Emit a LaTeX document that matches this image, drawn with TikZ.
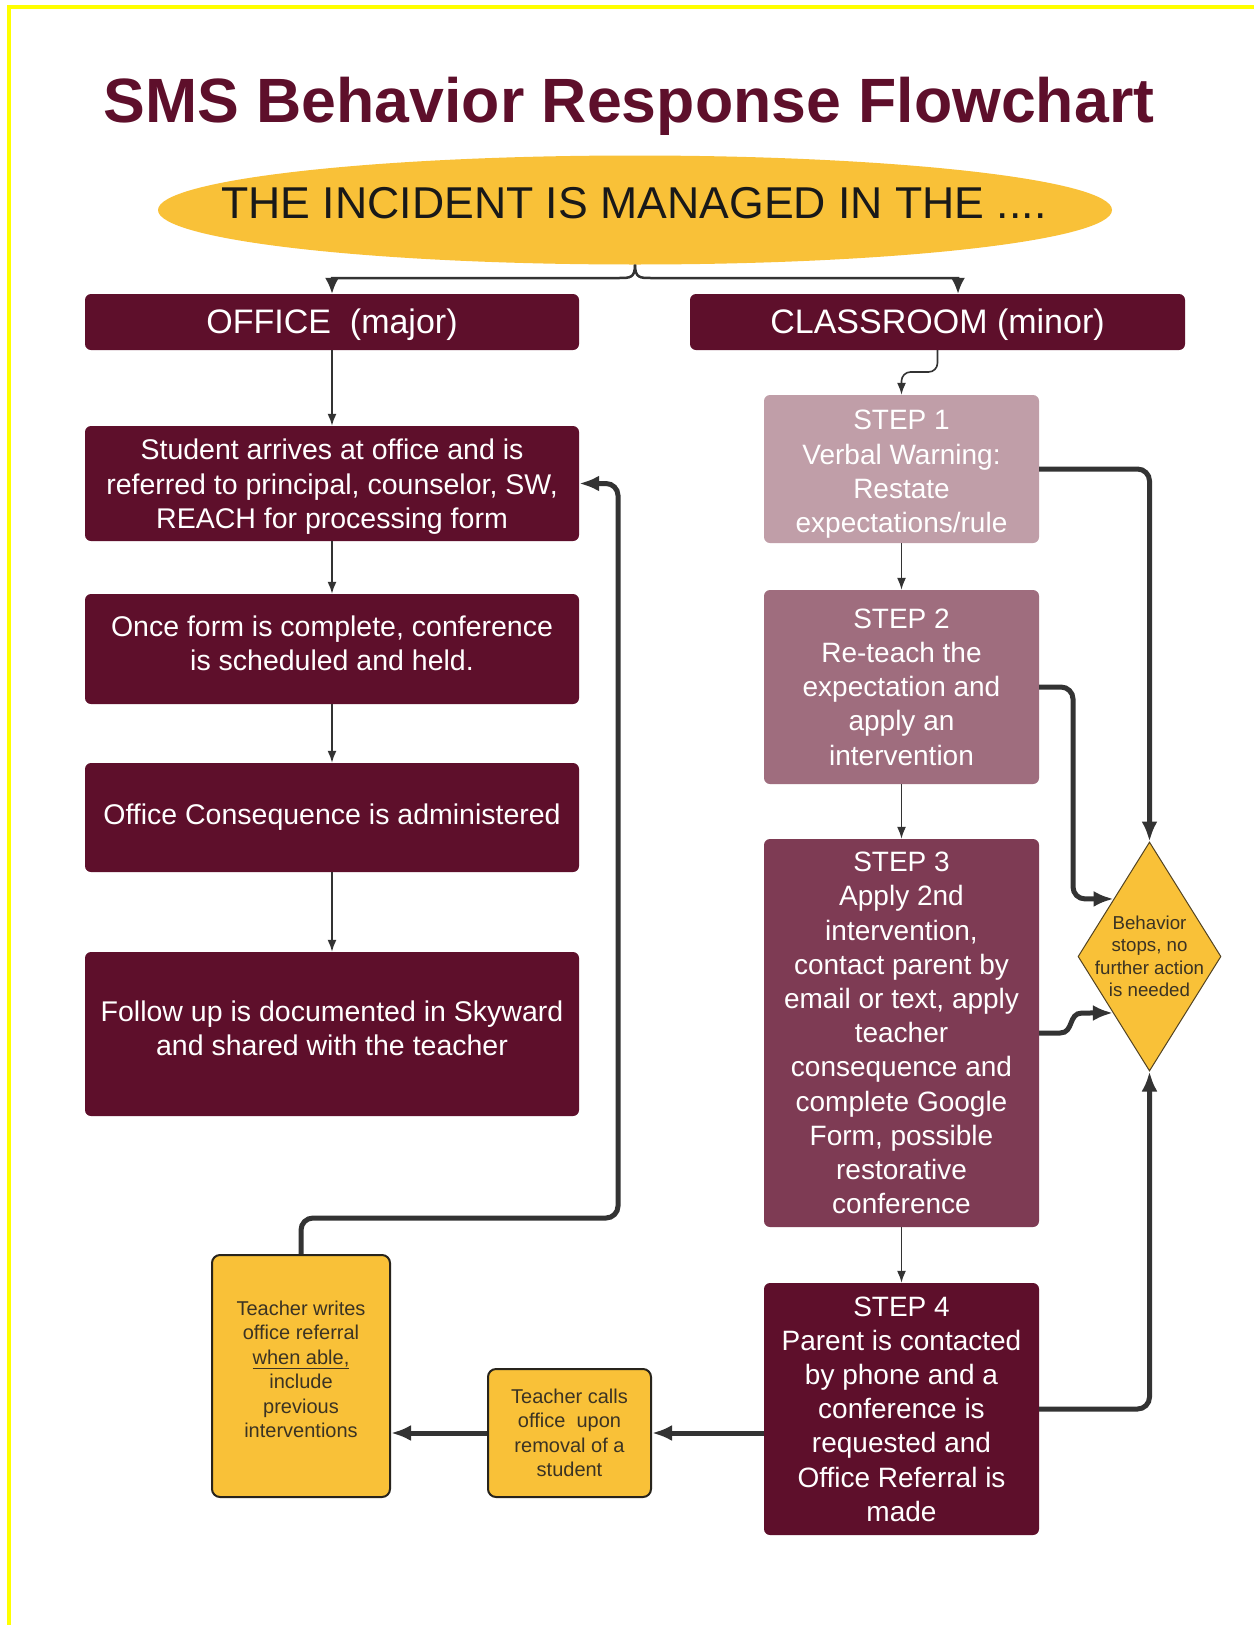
\documentclass[tikz,border=0pt]{standalone}
\usepackage{fontspec}
\setmainfont{Liberation Sans}
\usetikzlibrary{shapes.geometric,arrows.meta,calc}
\definecolor{maroon}{RGB}{94,15,43}
\definecolor{stepone}{RGB}{192,158,168}
\definecolor{steptwo}{RGB}{159,109,126}
\definecolor{stepthree}{RGB}{126,59,84}
\definecolor{gold}{RGB}{249,193,56}
\definecolor{arrowc}{RGB}{51,51,51}
\definecolor{darktext}{RGB}{59,51,35}
\definecolor{ybord}{RGB}{40,36,28}
\definecolor{frameyellow}{RGB}{255,255,0}
\newcommand\lowpad[1]{\rule[-#1]{0pt}{#1}}
\newcommand\toppad[1]{\rule{0pt}{#1}}
\tikzset{
  mbox/.style={rectangle, rounded corners=6, fill=maroon, text=white, align=center,
    inner sep=0, minimum width=494, font=\fontsize{28.5}{34.2}\selectfont},
  hdr/.style={mbox, font=\fontsize{34}{40}\selectfont},
  stepbox/.style={rectangle, rounded corners=6, text=white, align=center, inner sep=0,
    minimum width=275, font=\fontsize{28}{34.2}\selectfont},
  ybox/.style={rectangle, rounded corners=8, fill=gold, draw=ybord, line width=2,
    text=darktext, align=center, inner sep=0, font=\fontsize{20}{24.5}\selectfont},
  thinarr/.style={draw=arrowc, line width=1.6, -{Latex[length=12,width=9]}},
  bracearr/.style={draw=arrowc, line width=2.5, -{Latex[length=16,width=14]}},
  thickarr/.style={draw=arrowc, line width=5, rounded corners=12, -{Latex[length=20,width=16]}},
}
\begin{document}
\begin{tikzpicture}[x=1pt,y=-1pt]
\useasboundingbox (0,0) rectangle (1254,1625);
\fill[white] (0,0) rectangle (1254,1625);
% frame
\fill[frameyellow] (7,5) rectangle (1254,9);
\fill[frameyellow] (7,5) rectangle (11,1625);

% title
\node[anchor=base, text=maroon, font=\bfseries\fontsize{62.6}{70}\selectfont] (title) at (629,122) {SMS Behavior Response Flowchart};

% ellipse
\node[ellipse, fill=gold, minimum width=954, minimum height=109, inner sep=0] (ell) at (635,210) {};
\node[anchor=base, text=black!90, font=\fontsize{44.6}{50}\selectfont] (elltext) at (634,218) {THE INCIDENT IS MANAGED IN THE ....};

% headers
\node[hdr, minimum height=56] (office) at (332,322) {\toppad{31pt}OFFICE\ \ (major)};
\node[hdr, minimum width=495, minimum height=56] (classroom) at (937.5,322) {\toppad{31pt}CLASSROOM (minor)};

% office column
\node[mbox, minimum height=115] (A) at (332,483.5) {\toppad{27pt}Student arrives at office and is\\referred to principal, counselor, SW,\\REACH for processing form};
\node[mbox, minimum height=110] (B) at (332,649) {Once form is complete, conference\\is scheduled and held.\lowpad{11pt}};
\node[mbox, minimum height=109] (C) at (332,817.5) {Office Consequence is administered};
\node[mbox, minimum height=164] (D) at (332,1034) {Follow up is documented in Skyward\\and shared with the teacher\lowpad{12pt}};

% classroom column
\node[stepbox, fill=stepone, minimum height=148] (s1) at (901.5,469) {\toppad{30pt}STEP 1\\Verbal Warning:\\Restate\\expectations/rule};
\node[stepbox, fill=steptwo, minimum height=194] (s2) at (901.5,687) {STEP 2\\Re-teach the\\expectation and\\apply an\\intervention};
\node[stepbox, fill=stepthree, minimum height=388] (s3) at (901.5,1033) {STEP 3\\Apply 2nd\\intervention,\\contact parent by\\email or text, apply\\teacher\\consequence and\\complete Google\\Form, possible\\restorative\\conference};
\node[stepbox, fill=maroon, minimum height=252] (s4) at (901.5,1409) {STEP 4\\Parent is contacted\\by phone and a\\conference is\\requested and\\Office Referral is\\made};

% diamond
\node[diamond, fill=gold, draw=ybord!80!gold, line width=1, minimum width=143, minimum height=229, inner sep=0] (dia) at (1149.5,956.5) {};
\node[text=darktext, align=center, font=\fontsize{18.7}{22.5}\selectfont] (diatext) at (1149.5,956.5) {Behavior\\stops, no\\further action\\is needed};

% yellow boxes
\node[ybox, minimum width=163, minimum height=128] (E) at (569.5,1433) {Teacher calls\\office\ \ upon\\removal of a\\student};
\node[ybox, minimum width=178, minimum height=242] (F) at (301,1376) {Teacher writes\\office referral\\\underline{when able,}\\include\\previous\\interventions\lowpad{14pt}};

% brace connector
\coordinate (brL) at (332,278);
\coordinate (brR) at (958,278);
\draw[bracearr] (ell.south) .. controls (635,278) and (630,278) .. (619,278) -- (brL) -- (office.north);
\draw[bracearr] (ell.south) .. controls (635,278) and (640,278) .. (651,278) -- (brR) -- (brR |- classroom.north);

% office column arrows
\draw[thinarr] (office.south) -- (A.north);
\draw[thinarr] (A.south) -- (B.north);
\draw[thinarr] (B.south) -- (C.north);
\draw[thinarr] (C.south) -- (D.north);

% classroom column arrows
\draw[thinarr, rounded corners=9] (classroom.south) -- (937.5,372) -- (901.5,372) -- (s1.north);
\draw[thinarr] (s1.south) -- (s2.north);
\draw[thinarr] (s2.south) -- (s3.north);
\draw[thinarr] (s3.south) -- (s4.north);

% thick arrows to diamond
\draw[thickarr] (s1.east) -- (s1.east -| dia.north) -- (dia.north);
\coordinate (j2) at (1073,0);
\draw[thickarr] (s2.east) -- (s2.east -| j2) -- (j2 |- dia.122) -- (dia.122);
\draw[thickarr, rounded corners=0] (s3.east) -- (1060,1033) .. controls (1074,1033) and (1068,1013) .. (1082,1013) -- (dia.237);
\draw[thickarr] (s4.east) -- (s4.east -| dia.south) -- (dia.south);

% bottom arrows
\draw[thickarr] (E -| s4.west) -- (E.east);
\draw[thickarr] (E.west) -- (E.west -| F.east);
\coordinate (j4) at (618,1218);
\draw[thickarr] (F.north) -- (F.north |- j4) -- (j4) -- (j4 |- A.east) -- (A.east);
\end{tikzpicture}
\end{document}
